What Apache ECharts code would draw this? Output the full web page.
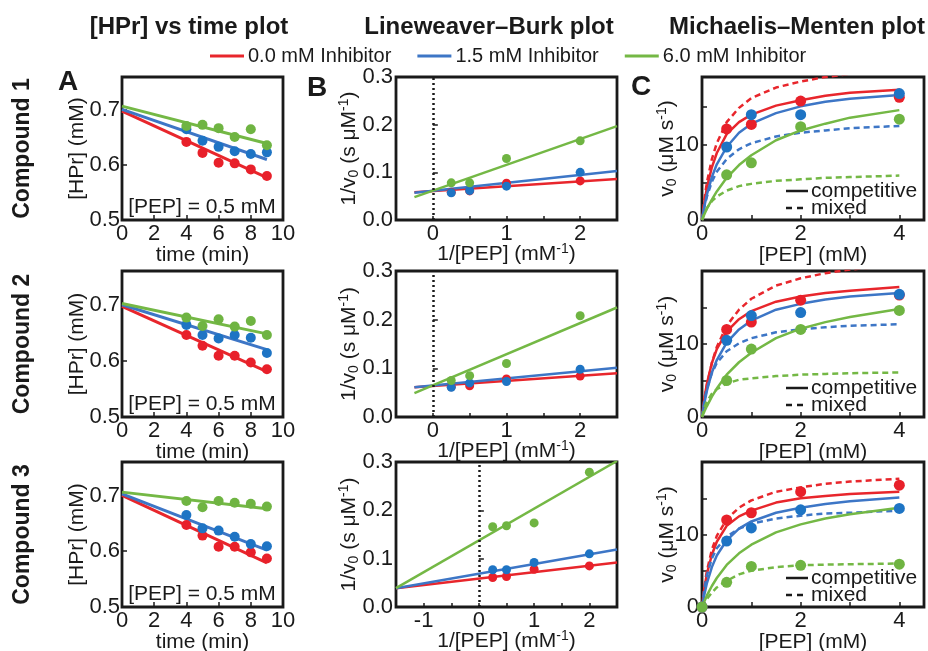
<!DOCTYPE html>
<html><head><meta charset="utf-8">
<script src="https://cdn.jsdelivr.net/npm/echarts@6/dist/echarts.min.js"></script>
<style>html,body{margin:0;padding:0;background:#fff}#c{width:928px;height:651px}</style>
</head><body><div id="c"></div>
<script>
// ---------------- data ----------------
const seriesNames = ['0.0 mM Inhibitor', '1.5 mM Inhibitor', '6.0 mM Inhibitor'];
const compoundLabels = ['Compound 1', 'Compound 2', 'Compound 3'];
const panelTitles = ['[HPr] vs time plot', 'Lineweaver–Burk plot', 'Michaelis–Menten plot'];
const panelLetters = ['A', 'B', 'C'];

// A: [HPr] vs time
const timeMin = [4, 5, 6, 7, 8, 9];
const fitTime = [0, 9];
const hprC1 = [[0.642, 0.622, 0.604, 0.603, 0.592, 0.580], [0.665, 0.644, 0.633, 0.625, 0.620, 0.623], [0.671, 0.673, 0.667, 0.651, 0.665, 0.636]];
const hprC2 = [[0.646, 0.627, 0.609, 0.609, 0.597, 0.585], [0.664, 0.646, 0.640, 0.646, 0.641, 0.614], [0.677, 0.662, 0.674, 0.661, 0.671, 0.646]];
const hprC3 = [[0.647, 0.628, 0.608, 0.608, 0.598, 0.587], [0.665, 0.641, 0.637, 0.626, 0.613, 0.609], [0.690, 0.679, 0.690, 0.687, 0.685, 0.680]];
const hprFitC1 = [[0.698, 0.577], [0.701, 0.610], [0.707, 0.639]];
const hprFitC2 = [[0.697, 0.581], [0.700, 0.620], [0.702, 0.648]];
const hprFitC3 = [[0.700, 0.579], [0.703, 0.602], [0.706, 0.676]];

// B: Lineweaver-Burk
const invPep = [0.25, 0.5, 1, 2];
const lbC1 = [[0.058, 0.061, 0.077, 0.082], [0.057, 0.062, 0.071, 0.100], [0.078, 0.078, 0.129, 0.166]];
const lbC2 = [[0.062, 0.064, 0.078, 0.084], [0.061, 0.070, 0.073, 0.098], [0.075, 0.085, 0.110, 0.208]];
const lbC3 = [[0.061, 0.063, 0.078, 0.085], [0.077, 0.077, 0.092, 0.110], [0.166, 0.168, 0.174, 0.279]];
const lbFitX = [[-0.25, 2.5], [-0.25, 2.5], [-1.5, 2.5]];
const lbFitC1 = [[0.058, 0.086], [0.057, 0.103], [0.048, 0.197]];
const lbFitC2 = [[0.061, 0.090], [0.061, 0.101], [0.049, 0.225]];
const lbFitC3 = [[0.039, 0.092], [0.039, 0.119], [0.039, 0.302]];

// C: Michaelis-Menten
const pepC1 = [0.5, 1, 2, 4];
const pepC2 = [0.5, 1, 2, 4];
const pepC3 = [0, 0.5, 1, 2, 4];
const mmC1 = [[12.1, 12.7, 15.8, 16.3], [9.7, 14.0, 14.0, 16.8], [6.0, 7.6, 12.4, 13.4]];
const mmC2 = [[12.0, 13.0, 16.0, 16.7], [10.5, 13.9, 14.3, 16.8], [5.0, 9.3, 12.0, 14.6]];
const mmC3 = [[0, 12.0, 13.0, 15.9, 16.8], [0, 9.1, 10.9, 13.4, 13.6], [0, 3.4, 5.6, 5.75, 5.9]];
const curvePep = [0, 0.05, 0.1, 0.2, 0.3, 0.5, 0.75, 1, 1.5, 2, 2.5, 3, 4];
const compC1 = [
  [0, 2.4, 4.3, 7.0, 8.9, 11.4, 13.0, 14.0, 15.2, 15.9, 16.5, 16.9, 17.3],
  [0, 1.9, 3.4, 5.7, 7.4, 9.7, 11.6, 12.8, 14.2, 15.1, 15.7, 16.1, 16.6],
  [0, 0.8, 1.5, 2.7, 3.8, 5.6, 7.3, 8.6, 10.6, 11.9, 12.8, 13.6, 14.6]];
const mixC1 = [
  [0, 2.8, 5.0, 8.1, 10.2, 13.0, 14.9, 16.2, 17.6, 18.4, 19.0, 19.4, 19.9],
  [0, 1.8, 3.1, 5.1, 6.4, 8.1, 9.4, 10.2, 11.1, 11.6, 11.9, 12.2, 12.5],
  [0, 0.9, 1.6, 2.5, 3.1, 3.9, 4.5, 4.8, 5.2, 5.4, 5.6, 5.7, 5.9]];
const compC2 = [
  [0, 2.6, 4.6, 7.4, 9.3, 11.7, 13.4, 14.5, 15.8, 16.5, 17.0, 17.3, 17.8],
  [0, 2.0, 3.6, 6.1, 7.8, 10.2, 12.0, 13.2, 14.7, 15.5, 16.1, 16.5, 17.0],
  [0, 0.8, 1.5, 2.8, 3.9, 5.8, 7.5, 8.8, 10.8, 12.1, 13.0, 13.7, 14.8]];
const mixC2 = [
  [0, 2.5, 4.4, 7.4, 9.6, 12.5, 14.7, 16.2, 18.0, 19.0, 19.7, 20.2, 20.8],
  [0, 2.3, 3.9, 6.0, 7.4, 9.0, 10.1, 10.8, 11.6, 12.0, 12.3, 12.5, 12.7],
  [0, 1.3, 2.1, 3.2, 3.8, 4.6, 5.1, 5.3, 5.6, 5.8, 5.9, 6.0, 6.1]];
const compC3 = [
  [0, 2.7, 4.6, 7.2, 9.0, 11.2, 12.5, 13.3, 14.4, 15.0, 15.3, 15.6, 15.9],
  [0, 1.8, 3.3, 5.5, 7.1, 9.2, 10.8, 11.8, 13.0, 13.7, 14.2, 14.6, 15.1],
  [0, 0.8, 1.6, 2.9, 4.0, 5.8, 7.4, 8.6, 10.3, 11.4, 12.2, 12.8, 13.7]];
const mixC3 = [
  [0, 2.9, 5.0, 7.9, 9.8, 12.1, 13.7, 14.7, 15.9, 16.5, 17.0, 17.3, 17.7],
  [0, 2.6, 4.4, 6.7, 8.1, 9.7, 10.8, 11.5, 12.2, 12.6, 12.9, 13.0, 13.3],
  [0, 0.6, 1.1, 2.0, 2.7, 3.6, 4.5, 5.0, 5.5, 5.75, 5.85, 5.9, 6.0]];

// axis ranges
const timeRange = [0, 10];
const hprRange = [0.5, 0.76];
const lbXMin = [-0.5, -0.5, -1.5];
const lbXMax = 2.5;
const lbYRange = [0, 0.3];
const mmXRange = [0, 4.5];
const mmYMax = [19, 20, 20];

// ---------------- layout / style ----------------
const FONT = '"Liberation Sans", Arial, Helvetica, sans-serif';
const LINE_COLORS = ['#e8262c', '#3d76c6', '#74b845'];
const DOT_COLORS = ['#e8202a', '#1e74c4', '#6fb442'];
const INK = '#1a1a1a';
const colLeft = [122, 396, 702];
const colWidth = [161, 221, 222];
const rowTop = [77, 271, 462];
const rowHeight = [143, 146, 145];

const hprData = [hprC1, hprC2, hprC3];
const hprFit = [hprFitC1, hprFitC2, hprFitC3];
const lbData = [lbC1, lbC2, lbC3];
const lbFit = [lbFitC1, lbFitC2, lbFitC3];
const pepData = [pepC1, pepC2, pepC3];
const mmData = [mmC1, mmC2, mmC3];
const compData = [compC1, compC2, compC3];
const mixData = [mixC1, mixC2, mixC3];

const grids = [], xAxes = [], yAxes = [], series = [], graphics = [];

const rich = {
  sub: { fontSize: 14, fontFamily: FONT, color: INK, verticalAlign: 'bottom', lineHeight: 16 },
  sup: { fontSize: 14, fontFamily: FONT, color: INK, verticalAlign: 'top', lineHeight: 14 }
};
function nameStyle() {
  return { fontSize: 21, fontFamily: FONT, color: INK, lineHeight: 24, rich: rich };
}
function baseAxis(gi, extra) {
  return Object.assign({
    type: 'value', gridIndex: gi,
    nameLocation: 'middle',
    nameMoveOverlap: false,
    nameTextStyle: nameStyle(),
    axisLine: { show: false },
    axisTick: { show: true, inside: true, length: 5, lineStyle: { color: INK, width: 1.5 } },
    axisLabel: { fontSize: 22, fontFamily: FONT, color: INK, margin: 3 },
    splitLine: { show: false }
  }, extra);
}
const near = (a, b) => Math.abs(a - b) < 1e-6;

for (let r = 0; r < 3; r++) {
  for (let c = 0; c < 3; c++) {
    grids.push({
      left: colLeft[c], top: rowTop[r], width: colWidth[c], height: rowHeight[r],
      show: true, borderColor: INK, borderWidth: 2.8, backgroundColor: 'transparent',
      containLabel: false, outerBoundsMode: 'none'
    });
  }
  // ---- A ----
  const gA = r * 3;
  xAxes.push(baseAxis(gA, {
    min: timeRange[0], max: timeRange[1], interval: 2,
    name: 'time (min)', nameGap: 23
  }));
  yAxes.push(baseAxis(gA, {
    min: hprRange[0], max: hprRange[1], interval: 0.1,
    name: '[HPr] (mM)', nameGap: 33,
    axisLabel: { fontSize: 22, fontFamily: FONT, color: INK, margin: 2,
      formatter: v => (v < 0.75 && near(v * 10, Math.round(v * 10))) ? v.toFixed(1) : '' }
  }));
  for (let k = 0; k < 3; k++) {
    series.push({
      name: seriesNames[k], type: 'line', xAxisIndex: gA, yAxisIndex: gA,
      data: fitTime.map((t, i) => [t, hprFit[r][k][i]]),
      showSymbol: false, symbol: 'none', z: 2,
      lineStyle: { color: LINE_COLORS[k], width: 3 }, itemStyle: { color: LINE_COLORS[k] }
    });
  }
  for (let k = 0; k < 3; k++) {
    series.push({
      name: seriesNames[k], type: 'scatter', xAxisIndex: gA, yAxisIndex: gA,
      data: timeMin.map((t, i) => [t, hprData[r][k][i]]),
      symbolSize: 10, z: 3, itemStyle: { color: DOT_COLORS[k], opacity: 1 }
    });
  }
  // ---- B ----
  const gB = r * 3 + 1;
  xAxes.push(baseAxis(gB, {
    min: lbXMin[r], max: lbXMax, interval: 0.5,
    name: '1/[PEP] (mM{sup|-1})', nameGap: 22,
    axisTick: { show: true, inside: true, length: 4, lineStyle: { color: INK, width: 1.5 } },
    axisLabel: { fontSize: 22, fontFamily: FONT, color: INK, margin: 3,
      formatter: v => (near(v, Math.round(v)) && v > lbXMin[r] + 0.01 && v < lbXMax - 0.01) ? String(Math.round(v)) : '' }
  }));
  yAxes.push(baseAxis(gB, {
    min: lbYRange[0], max: lbYRange[1], interval: 0.1,
    name: '1/v{sub|0} (s μM{sup|-1})', nameGap: 35,
    axisLabel: { fontSize: 22, fontFamily: FONT, color: INK, margin: 3, formatter: v => v.toFixed(1) }
  }));
  for (let k = 0; k < 3; k++) {
    const s = {
      name: seriesNames[k], type: 'line', xAxisIndex: gB, yAxisIndex: gB,
      data: lbFitX[r].map((x, i) => [x, lbFit[r][k][i]]),
      showSymbol: false, symbol: 'none', z: 2,
      lineStyle: { color: LINE_COLORS[k], width: 2.5 }, itemStyle: { color: LINE_COLORS[k] }
    };
    if (k === 0) {
      s.markLine = {
        silent: true, symbol: 'none', label: { show: false },
        lineStyle: { color: INK, type: [2, 3], width: 2.5 },
        data: [{ xAxis: 0 }]
      };
    }
    series.push(s);
  }
  for (let k = 0; k < 3; k++) {
    series.push({
      name: seriesNames[k], type: 'scatter', xAxisIndex: gB, yAxisIndex: gB,
      data: invPep.map((x, i) => [x, lbData[r][k][i]]),
      symbolSize: 9, z: 3, itemStyle: { color: DOT_COLORS[k], opacity: 1 }
    });
  }
  // ---- C ----
  const gC = r * 3 + 2;
  xAxes.push(baseAxis(gC, {
    min: mmXRange[0], max: mmXRange[1], interval: 1,
    name: '[PEP] (mM)', nameGap: 23,
    axisLabel: { fontSize: 22, fontFamily: FONT, color: INK, margin: 3,
      formatter: v => (near(v, Math.round(v)) && Math.round(v) % 2 === 0 && v < 4.4) ? String(Math.round(v)) : '' }
  }));
  yAxes.push(baseAxis(gC, {
    min: 0, max: mmYMax[r], interval: 5,
    name: 'v{sub|0} (μM s{sup|-1})', nameGap: 23,
    axisLabel: { fontSize: 22, fontFamily: FONT, color: INK, margin: 3,
      formatter: v => (near(v, 0) || near(v, 10)) ? String(Math.round(v)) : '' }
  }));
  for (let k = 0; k < 3; k++) {
    series.push({
      name: seriesNames[k], type: 'line', xAxisIndex: gC, yAxisIndex: gC,
      data: curvePep.map((x, i) => [x, mixData[r][k][i]]),
      showSymbol: false, symbol: 'none', z: 2, clip: true,
      lineStyle: { color: LINE_COLORS[k], width: 2.5, type: [6, 4] }, itemStyle: { color: LINE_COLORS[k] }
    });
    series.push({
      name: seriesNames[k], type: 'line', xAxisIndex: gC, yAxisIndex: gC,
      data: curvePep.map((x, i) => [x, compData[r][k][i]]),
      showSymbol: false, symbol: 'none', z: 2, clip: true,
      lineStyle: { color: LINE_COLORS[k], width: 2.5 }, itemStyle: { color: LINE_COLORS[k] }
    });
  }
  for (let k = 0; k < 3; k++) {
    series.push({
      name: seriesNames[k], type: 'scatter', xAxisIndex: gC, yAxisIndex: gC,
      data: pepData[r].map((x, i) => [x, mmData[r][k][i]]),
      symbolSize: 11, z: 3, itemStyle: { color: DOT_COLORS[k], opacity: 1 }
    });
  }

  // ---- text decorations ----
  const bottom = rowTop[r] + rowHeight[r];
  graphics.push({
    type: 'text', x: 23, y: rowTop[r] + rowHeight[r] / 2, rotation: Math.PI / 2,
    style: { text: compoundLabels[r], fontSize: 23, fontWeight: 'bold', fontFamily: FONT, fill: INK, align: 'center', verticalAlign: 'middle' }
  });
  graphics.push({
    type: 'text', x: 202, y: bottom - 13,
    style: { text: '[PEP] = 0.5 mM', fontSize: 21, fontFamily: FONT, fill: INK, align: 'center', verticalAlign: 'middle' }
  });
  graphics.push({
    type: 'line', shape: { x1: 786, y1: bottom - 29, x2: 808, y2: bottom - 29 },
    style: { stroke: INK, lineWidth: 2.5 }
  });
  graphics.push({
    type: 'text', x: 811, y: bottom - 29,
    style: { text: 'competitive', fontSize: 21, fontFamily: FONT, fill: INK, align: 'left', verticalAlign: 'middle' }
  });
  graphics.push({
    type: 'line', shape: { x1: 786, y1: bottom - 12, x2: 808, y2: bottom - 12 },
    style: { stroke: INK, lineWidth: 2.5, lineDash: [6, 5] }
  });
  graphics.push({
    type: 'text', x: 811, y: bottom - 12,
    style: { text: 'mixed', fontSize: 21, fontFamily: FONT, fill: INK, align: 'left', verticalAlign: 'middle' }
  });
}

const titleX = [189, 489, 797];
const letterPos = [[68, 82], [317, 88], [641, 87]];
for (let c = 0; c < 3; c++) {
  graphics.push({
    type: 'text', x: titleX[c], y: 27,
    style: { text: panelTitles[c], fontSize: 24, fontWeight: 'bold', fontFamily: FONT, fill: INK, align: 'center', verticalAlign: 'middle' }
  });
  graphics.push({
    type: 'text', x: letterPos[c][0], y: letterPos[c][1],
    style: { text: panelLetters[c], fontSize: 28, fontWeight: 'bold', fontFamily: FONT, fill: INK, align: 'center', verticalAlign: 'middle' }
  });
}

const chart = echarts.init(document.getElementById('c'), null, { renderer: 'canvas' });
chart.setOption({
  animation: false,
  backgroundColor: '#ffffff',
  textStyle: { fontFamily: FONT },
  legend: {
    data: seriesNames.map(n => ({ name: n, icon: 'rect' })),
    left: 205, top: 41, itemWidth: 34, itemHeight: 3, itemGap: 26,
    textStyle: { fontSize: 20, fontFamily: FONT, color: INK, padding: [0, 0, 0, -1] },
    selectedMode: false
  },
  grid: grids, xAxis: xAxes, yAxis: yAxes, series: series, graphic: graphics
});
</script></body></html>
